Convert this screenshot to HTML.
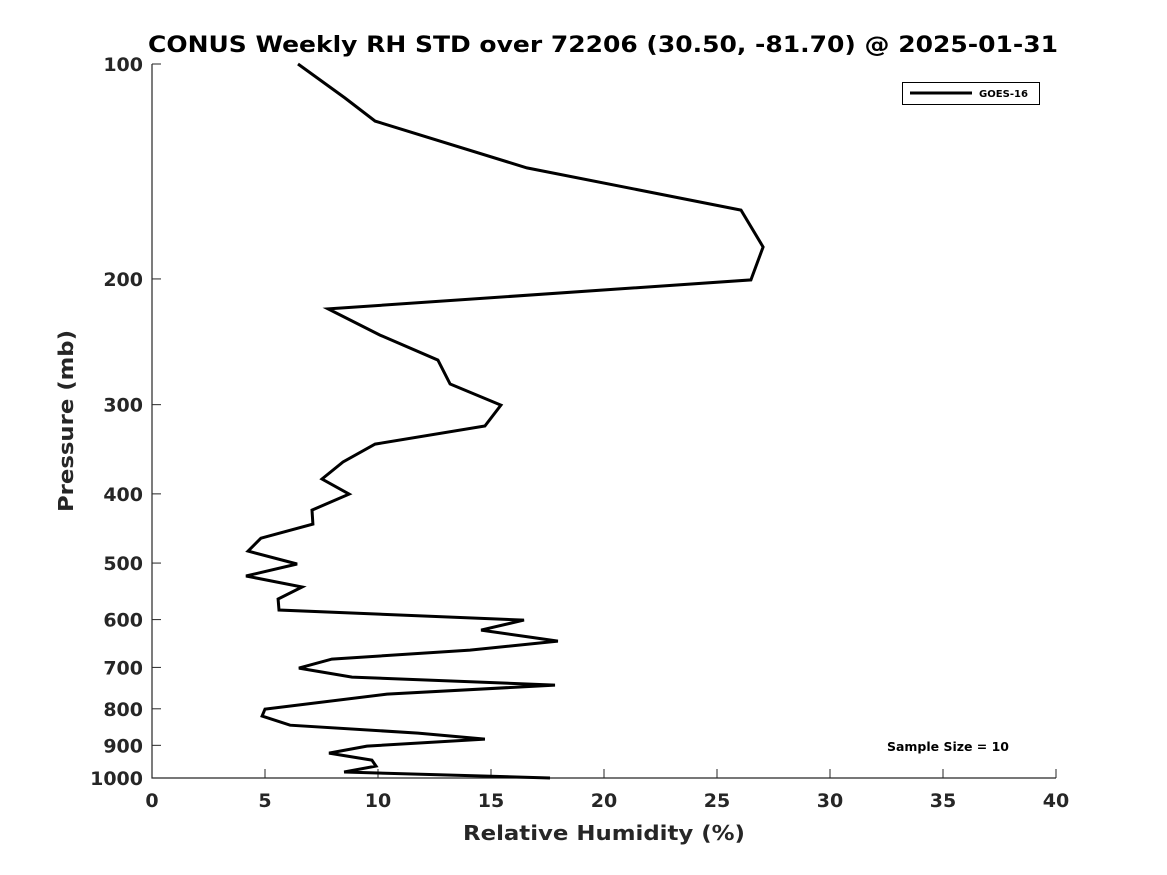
<!DOCTYPE html>
<html><head><meta charset="utf-8"><style>
body{margin:0;background:#fff;}
svg{display:block;font-family:"DejaVu Sans","Liberation Sans",sans-serif;font-weight:bold;}
</style></head><body>
<svg id="chart" width="1167" height="875">
<rect width="1167" height="875" fill="#fff"/>
<text x="148" y="52" font-size="22" textLength="910" lengthAdjust="spacingAndGlyphs">CONUS Weekly RH STD over 72206 (30.50, -81.70) @ 2025-01-31</text>
<g id="axes"></g>
<text x="463" y="840" font-size="20" textLength="282" lengthAdjust="spacingAndGlyphs" fill="#262626">Relative Humidity (%)</text>
<text transform="translate(73,512) rotate(-90)" font-size="20" textLength="182" lengthAdjust="spacingAndGlyphs" fill="#262626">Pressure (mb)</text>
<g>
<rect x="902.5" y="82.5" width="137" height="22" fill="#fff" stroke="#000" stroke-width="1"/>
<line x1="910" y1="93" x2="972" y2="93" stroke="#000" stroke-width="3"/>
<text x="979" y="97" font-size="10" textLength="49" lengthAdjust="spacingAndGlyphs">GOES-16</text>
</g>
<text x="887" y="751" font-size="12" textLength="122" lengthAdjust="spacingAndGlyphs">Sample Size = 10</text>
</svg>
<script>
const xTicks=[0,5,10,15,20,25,30,35,40];
const yTicks=[100,200,300,400,500,600,700,800,900,1000];
const pressure=[100,111.6,120.2,139.8,160.2,180.4,200.6,220.3,239.7,259.8,280.7,300.4,321.4,340.7,360.9,381.3,400.3,421.5,441,461.4,481.1,501.5,521.3,540.2,561.5,581.8,600.9,620.6,643,662,681.5,701.6,722.3,741.1,762.9,800.8,819.1,843.3,865.1,882,902.3,922.9,943.9,962.3,980.8,1000];
const rhStd=[6.46,8.54,9.87,16.59,26.06,27.04,26.5,7.79,10.09,12.65,13.19,15.44,14.73,9.87,8.45,7.52,8.72,7.08,7.12,4.82,4.25,6.42,4.16,6.64,5.58,5.62,16.46,14.56,17.96,14.07,7.96,6.5,8.85,17.83,10.4,5.0,4.87,6.11,11.77,14.73,9.51,7.83,9.73,9.91,8.5,17.61];
const X0=152,X1=1056,Y0=64,Y1=778;
const xS=v=>X0+(v-0)/(40-0)*(X1-X0);
const yS=p=>Y0+(Math.log10(p)-2)/(3-2)*(Y1-Y0);
const NS="http://www.w3.org/2000/svg";
const g=document.getElementById('axes');
function mk(t,a){const e=document.createElementNS(NS,t);for(const k in a)e.setAttribute(k,a[k]);g.appendChild(e);return e;}
let ax=mk('path',{d:`M${X0},${Y0} V${Y1} H${X1}`,fill:'none',stroke:'#262626','stroke-width':1.2});


xTicks.forEach(v=>{const x=xS(v);
 let t=mk('line',{x1:x,y1:Y1,x2:x,y2:Y1-9,stroke:'#262626'});
 
 
 let l=mk('text',{x:x,y:Y1+29,'text-anchor':'middle','font-size':19,fill:'#262626'});l.textContent=v;
 
 
});
yTicks.forEach(v=>{const y=yS(v);
 let t=mk('line',{x1:X0,y1:y,x2:X0+9,y2:y,stroke:'#262626'});
 
 
 let l=mk('text',{x:X0-9,y:y+7,'text-anchor':'end','font-size':19,fill:'#262626'});l.textContent=v;
 
 
});
const pts=rhStd.map((v,i)=>xS(v).toFixed(1)+','+yS(pressure[i]).toFixed(1)).join(' ');
let line=mk('polyline',{points:pts,fill:'none',stroke:'#000','stroke-width':3,'stroke-linejoin':'miter'});


</script>
</body></html>
